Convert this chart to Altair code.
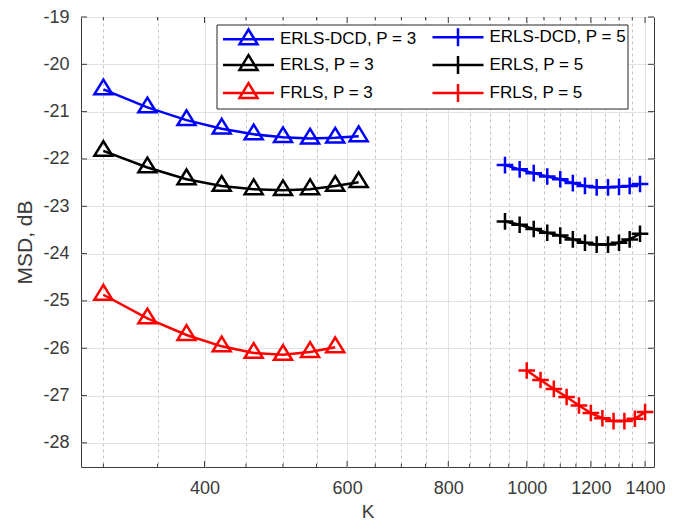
import altair as alt
import pandas as pd

# ---------------- data ----------------
SERIES = ["ERLS-DCD, P = 3", "ERLS-DCD, P = 5", "ERLS, P = 3", "ERLS, P = 5", "FRLS, P = 3", "FRLS, P = 5"]
COLORS = ["#0000ff", "#0000ff", "#000000", "#000000", "#ff0000", "#ff0000"]
LEG_ORDER = ["ERLS-DCD, P = 3", "ERLS, P = 3", "FRLS, P = 3", "ERLS-DCD, P = 5", "ERLS, P = 5", "FRLS, P = 5"]
LEG_COLORS = ["#0000ff", "#000000", "#ff0000", "#0000ff", "#000000", "#ff0000"]

K_P3 = [300, 340, 380, 420, 460, 500, 540, 580, 620]
K_P3_FRLS = [300, 340, 380, 420, 460, 500, 540, 580]
K_P5 = [940, 980, 1020, 1060, 1100, 1140, 1180, 1220, 1260, 1300, 1340, 1380]
K_P5_FRLS = [1000, 1040, 1080, 1120, 1160, 1200, 1240, 1280, 1320, 1360, 1400]

erlsdcd_p3 = [-20.53, -20.91, -21.18, -21.36, -21.48, -21.54, -21.57, -21.55, -21.52]
erls_p3 = [-21.83, -22.18, -22.43, -22.57, -22.64, -22.66, -22.64, -22.57, -22.49]
frls_p3 = [-24.87, -25.37, -25.72, -25.96, -26.10, -26.14, -26.08, -25.98]
erlsdcd_p5 = [-22.13, -22.22, -22.30, -22.37, -22.43, -22.51, -22.57, -22.60, -22.60, -22.59, -22.57, -22.53]
erls_p5 = [-23.32, -23.39, -23.48, -23.56, -23.62, -23.70, -23.77, -23.81, -23.81, -23.77, -23.70, -23.58]
frls_p5 = [-26.47, -26.67, -26.86, -27.03, -27.21, -27.37, -27.48, -27.54, -27.54, -27.49, -27.35]

X_MAJOR = [400, 600, 800, 1000, 1200, 1400]
X_MINOR = [300, 350, 450, 500, 550, 650, 700, 750, 850, 900, 950,
           1050, 1100, 1150, 1250, 1300, 1350]
Y_TICKS = [-28, -27, -26, -25, -24, -23, -22, -21, -20, -19]

# ---------------- tables ----------------
rows = []
for name, ks, vals in [
    (SERIES[0], K_P3, erlsdcd_p3),
    (SERIES[1], K_P5, erlsdcd_p5),
    (SERIES[2], K_P3, erls_p3),
    (SERIES[3], K_P5, erls_p5),
    (SERIES[4], K_P3_FRLS, frls_p3),
    (SERIES[5], K_P5_FRLS, frls_p5),
]:
    for k, v in zip(ks, vals):
        rows.append({"K": k, "MSD": v, "series": name, "P": name[-1]})
df = pd.DataFrame(rows)

xmaj_df = pd.DataFrame({"K": X_MAJOR})
xmin_df = pd.DataFrame({"K": X_MINOR})
y_df = pd.DataFrame({"MSD": Y_TICKS})

# ---------------- style ----------------
FONT = "Liberation Sans"
TXT = "#3a3a3a"
AXC = "#3c3c3c"
W, H = 573, 450

TRI = "M0,-0.98L0.9,0.49L-0.9,0.49Z"
PLUS = "M-1,0H1M0,-1V1"
LEG_TRI = "M-2.55,0H2.55M0,-0.98L0.9,0.49L-0.9,0.49Z"
LEG_PLUS = "M-2.55,0H2.55M0,-0.9V0.9"

all_x = sorted(X_MAJOR + X_MINOR)
is_major = "datum.value % 200 == 0"

x_axis = alt.Axis(
    values=all_x,
    labelExpr="datum.value % 200 == 0 ? '' + datum.value : ''",
    grid=True,
    gridDash={"condition": {"test": is_major, "value": []}, "value": [3, 3]},
    gridColor={"condition": {"test": is_major, "value": "#e2e2e2"}, "value": "#c4c4c4"},
    gridWidth=1,
    ticks=False, domain=False,
    labelFont=FONT, labelFontSize=18, labelColor=TXT, labelPadding=12,
    labelFlush=False, labelOverlap=False,
    title="K", titleFont=FONT, titleFontSize=19, titleColor=TXT,
    titleFontWeight="normal", titlePadding=5,
)
y_axis = alt.Axis(
    values=Y_TICKS, labelExpr="'' + datum.value",
    grid=True, gridColor="#e2e2e2", gridWidth=1,
    ticks=False, domain=False,
    labelFont=FONT, labelFontSize=18, labelColor=TXT, labelPadding=12,
    labelFlush=False,
    title="MSD, dB", titleFont=FONT, titleFontSize=21, titleColor=TXT,
    titleFontWeight="normal", titlePadding=7,
)

x_enc = alt.X("K:Q", scale=alt.Scale(type="log", domain=[281.5, 1436], nice=False), axis=x_axis)
y_enc = alt.Y("MSD:Q", scale=alt.Scale(domain=[-28.51, -19], nice=False, zero=False), axis=y_axis)
stroke_scale = alt.Scale(domain=SERIES, range=COLORS)
color_scale = alt.Scale(domain=LEG_ORDER, range=LEG_COLORS)

legend = alt.Legend(
    title=None, orient="none", legendX=135.5, legendY=7.5, columns=2,
    columnPadding=9.5, rowPadding=-2, padding=1,
    symbolSize=400, symbolStrokeWidth=2.5, symbolOffset=19.5, labelOffset=20,
    symbolOpacity=1,
    labelFont=FONT, labelFontSize=17, labelColor="#000000", labelLimit=400,
    labelExpr="indexof(datum.label, 'P = 5') >= 0 ? datum.label + '\u00a0\u00a0\u00a0\u00a0\u00a0\u00a0\u00a0' : datum.label",
    strokeColor="#262626", fillColor="white",
)

base = alt.Chart(df)
stroke_enc = alt.Stroke("series:N", scale=stroke_scale, legend=None)

lines = base.mark_line(strokeWidth=2.5).encode(
    x=x_enc, y=y_enc, stroke=stroke_enc, detail="series:N",
)
tris = base.transform_filter("datum.P == '3'").mark_point(
    shape=TRI, size=400, strokeWidth=2.5, filled=False, opacity=1
).encode(x=x_enc, y=y_enc, stroke=stroke_enc)
pluses = base.transform_filter("datum.P == '5'").mark_point(
    shape=PLUS, size=276, strokeWidth=2.5, filled=False, opacity=1
).encode(x=x_enc, y=y_enc, stroke=stroke_enc)

# invisible layer that only carries the legend (line + marker symbols)
leg_layer = base.mark_point(
    filled=False, opacity=0, strokeWidth=2.5
).encode(
    x=x_enc, y=y_enc,
    color=alt.Color("series:N", scale=color_scale, legend=legend),
    shape=alt.Shape("series:N", scale=alt.Scale(domain=LEG_ORDER, range=[LEG_TRI] * 3 + [LEG_PLUS] * 3), legend=legend),
)

tick_kw = dict(color=AXC, strokeWidth=1)
xb_maj = alt.Chart(xmaj_df).mark_rule(**tick_kw).encode(x=x_enc, y=alt.value(H), y2=alt.value(H - 6))
xt_maj = alt.Chart(xmaj_df).mark_rule(**tick_kw).encode(x=x_enc, y=alt.value(0), y2=alt.value(6))
xb_min = alt.Chart(xmin_df).mark_rule(**tick_kw).encode(x=x_enc, y=alt.value(H), y2=alt.value(H - 3.3))
xt_min = alt.Chart(xmin_df).mark_rule(**tick_kw).encode(x=x_enc, y=alt.value(0), y2=alt.value(3.3))
yl = alt.Chart(y_df).mark_rule(**tick_kw).encode(y=y_enc, x=alt.value(0), x2=alt.value(6))
yr = alt.Chart(y_df).mark_rule(**tick_kw).encode(y=y_enc, x=alt.value(W - 6), x2=alt.value(W))

chart = alt.layer(
    xb_maj, xt_maj, xb_min, xt_min, yl, yr, lines, tris, pluses, leg_layer
).properties(
    width=W, height=H,
    autosize="none",
    padding={"left": 73, "top": 9, "right": 14, "bottom": 57},
    background="white",
).configure_view(stroke=AXC, strokeWidth=1)

chart.save("out.html", embed_options={"renderer": "svg", "actions": False})
